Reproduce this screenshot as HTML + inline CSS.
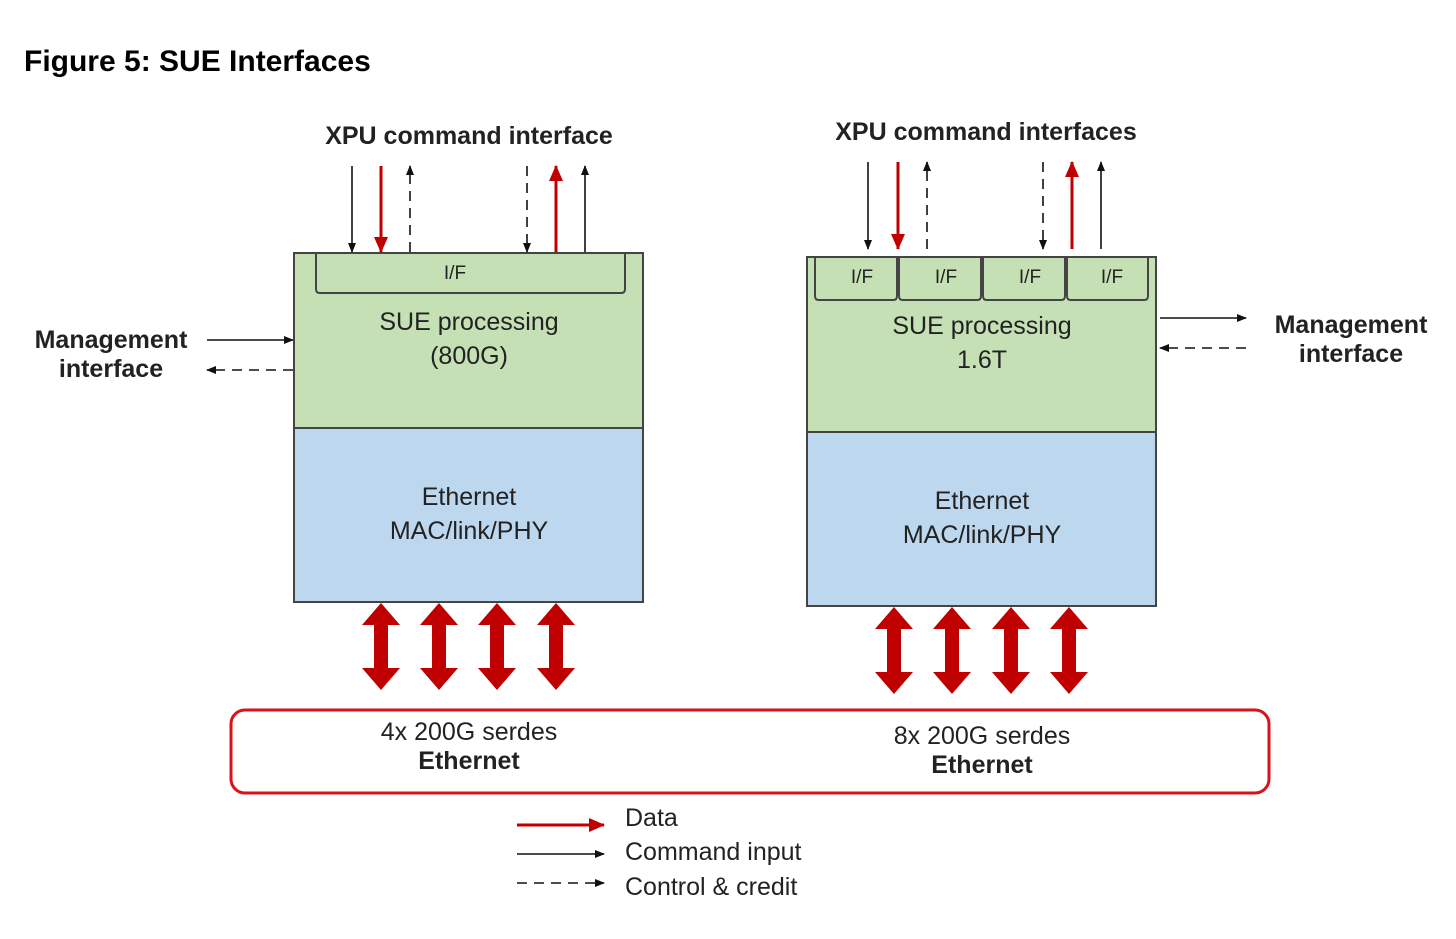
<!DOCTYPE html>
<html><head><meta charset="utf-8"><style>
html,body{margin:0;padding:0;background:#fff}
svg{display:block}
text{font-family:"Liberation Sans",sans-serif;fill:#222}
</style></head><body>
<svg width="1456" height="939" viewBox="0 0 1456 939" xmlns="http://www.w3.org/2000/svg">
<defs>
<marker id="ab" markerWidth="10" markerHeight="10" refX="9" refY="5" orient="auto" markerUnits="userSpaceOnUse"><path d="M0,1 L10,5 L0,9 z" fill="#111"/></marker>
<marker id="ar" markerWidth="16" markerHeight="14" refX="15" refY="7" orient="auto" markerUnits="userSpaceOnUse"><path d="M0,0 L16,7 L0,14 z" fill="#c00000"/></marker>
<g id="dbl"><path d="M0,0 L19,22 L7,22 L7,65 L19,65 L0,87 L-19,65 L-7,65 L-7,22 L-19,22 z" fill="#c00000"/></g>
</defs>
<text x="24" y="71" font-size="30" font-weight="bold" style="fill:#000">Figure 5:  SUE Interfaces</text>

<text x="469" y="144" font-size="25" font-weight="bold" text-anchor="middle">XPU command interface</text>
<text x="986" y="140" font-size="25" font-weight="bold" text-anchor="middle">XPU command interfaces</text>

<!-- left box -->
<rect x="294" y="253" width="349" height="175" fill="#c5e0b4" stroke="#444" stroke-width="2"/>
<rect x="294" y="428" width="349" height="174" fill="#bdd7ee" stroke="#444" stroke-width="2"/>
<path d="M316,253 V289 Q316,293 320,293 H621 Q625,293 625,289 V253" fill="none" stroke="#444" stroke-width="2"/>
<text x="455" y="279" font-size="19" text-anchor="middle">I/F</text>
<text x="469" y="330" font-size="25" text-anchor="middle">SUE processing</text>
<text x="469" y="364" font-size="25" text-anchor="middle">(800G)</text>
<text x="469" y="505" font-size="25" text-anchor="middle">Ethernet</text>
<text x="469" y="539" font-size="25" text-anchor="middle">MAC/link/PHY</text>

<!-- right box -->
<rect x="807" y="257" width="349" height="175" fill="#c5e0b4" stroke="#444" stroke-width="2"/>
<rect x="807" y="432" width="349" height="174" fill="#bdd7ee" stroke="#444" stroke-width="2"/>
<g fill="none" stroke="#444" stroke-width="2">
<path d="M815,257 V296 Q815,300 819,300 H893 Q897,300 897,296 V257"/>
<path d="M899,257 V296 Q899,300 903,300 H977 Q981,300 981,296 V257"/>
<path d="M983,257 V296 Q983,300 987,300 H1061 Q1065,300 1065,296 V257"/>
<path d="M1067,257 V296 Q1067,300 1071,300 H1144 Q1148,300 1148,296 V257"/>
</g>
<text x="862" y="283" font-size="19" text-anchor="middle">I/F</text>
<text x="946" y="283" font-size="19" text-anchor="middle">I/F</text>
<text x="1030" y="283" font-size="19" text-anchor="middle">I/F</text>
<text x="1112" y="283" font-size="19" text-anchor="middle">I/F</text>
<text x="982" y="334" font-size="25" text-anchor="middle">SUE processing</text>
<text x="982" y="368" font-size="25" text-anchor="middle">1.6T</text>
<text x="982" y="509" font-size="25" text-anchor="middle">Ethernet</text>
<text x="982" y="543" font-size="25" text-anchor="middle">MAC/link/PHY</text>

<!-- top arrows left -->
<g stroke-width="1.6">
<line x1="352" y1="166" x2="352" y2="252" stroke="#111" marker-end="url(#ab)"/>
<line x1="381" y1="166" x2="381" y2="252" stroke="#c00000" stroke-width="3" marker-end="url(#ar)"/>
<line x1="410" y1="252" x2="410" y2="166" stroke="#111" stroke-dasharray="10,7" marker-end="url(#ab)"/>
<line x1="527" y1="166" x2="527" y2="252" stroke="#111" stroke-dasharray="10,7" marker-end="url(#ab)"/>
<line x1="556" y1="252" x2="556" y2="166" stroke="#c00000" stroke-width="3" marker-end="url(#ar)"/>
<line x1="585" y1="252" x2="585" y2="166" stroke="#111" marker-end="url(#ab)"/>
<!-- right -->
<line x1="868" y1="162" x2="868" y2="249" stroke="#111" marker-end="url(#ab)"/>
<line x1="898" y1="162" x2="898" y2="249" stroke="#c00000" stroke-width="3" marker-end="url(#ar)"/>
<line x1="927" y1="249" x2="927" y2="162" stroke="#111" stroke-dasharray="10,7" marker-end="url(#ab)"/>
<line x1="1043" y1="162" x2="1043" y2="249" stroke="#111" stroke-dasharray="10,7" marker-end="url(#ab)"/>
<line x1="1072" y1="249" x2="1072" y2="162" stroke="#c00000" stroke-width="3" marker-end="url(#ar)"/>
<line x1="1101" y1="249" x2="1101" y2="162" stroke="#111" marker-end="url(#ab)"/>
<!-- management -->
<line x1="207" y1="340" x2="293" y2="340" stroke="#111" marker-end="url(#ab)"/>
<line x1="293" y1="370" x2="207" y2="370" stroke="#111" stroke-dasharray="10,7" marker-end="url(#ab)"/>
<line x1="1160" y1="318" x2="1246" y2="318" stroke="#111" marker-end="url(#ab)"/>
<line x1="1246" y1="348" x2="1160" y2="348" stroke="#111" stroke-dasharray="10,7" marker-end="url(#ab)"/>
</g>
<text x="111" y="348" font-size="25" font-weight="bold" text-anchor="middle">Management</text>
<text x="111" y="377" font-size="25" font-weight="bold" text-anchor="middle">interface</text>
<text x="1351" y="333" font-size="25" font-weight="bold" text-anchor="middle">Management</text>
<text x="1351" y="362" font-size="25" font-weight="bold" text-anchor="middle">interface</text>

<!-- double arrows -->
<use href="#dbl" x="381" y="603"/><use href="#dbl" x="439" y="603"/><use href="#dbl" x="497" y="603"/><use href="#dbl" x="556" y="603"/>
<use href="#dbl" x="894" y="607"/><use href="#dbl" x="952" y="607"/><use href="#dbl" x="1011" y="607"/><use href="#dbl" x="1069" y="607"/>

<rect x="231" y="710" width="1038" height="83" rx="14" fill="none" stroke="#d9121b" stroke-width="3"/>
<text x="469" y="740" font-size="25" text-anchor="middle">4x 200G serdes</text>
<text x="469" y="769" font-size="25" font-weight="bold" text-anchor="middle">Ethernet</text>
<text x="982" y="744" font-size="25" text-anchor="middle">8x 200G serdes</text>
<text x="982" y="773" font-size="25" font-weight="bold" text-anchor="middle">Ethernet</text>

<!-- legend -->
<line x1="517" y1="825" x2="604" y2="825" stroke="#c00000" stroke-width="3" marker-end="url(#ar)"/>
<line x1="517" y1="854" x2="604" y2="854" stroke="#111" stroke-width="1.6" marker-end="url(#ab)"/>
<line x1="517" y1="883" x2="604" y2="883" stroke="#111" stroke-width="1.6" stroke-dasharray="10,7" marker-end="url(#ab)"/>
<text x="625" y="826" font-size="25">Data</text>
<text x="625" y="860" font-size="25">Command input</text>
<text x="625" y="895" font-size="25">Control &amp; credit</text>
</svg>
</body></html>
